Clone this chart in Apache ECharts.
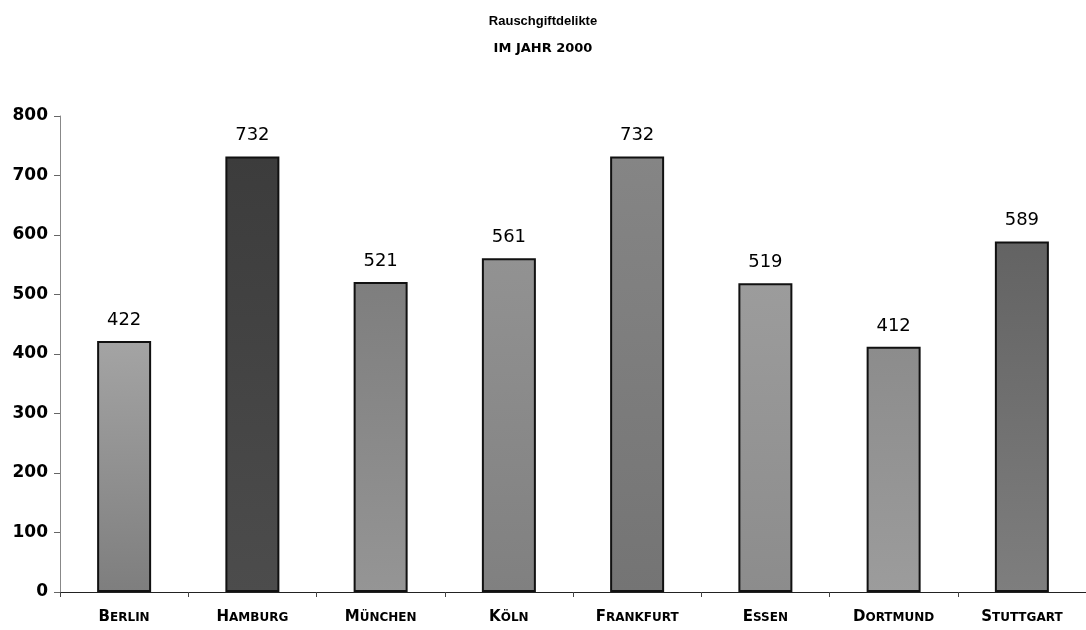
<!DOCTYPE html>
<html>
<head>
<meta charset="utf-8">
<script src="https://cdn.jsdelivr.net/npm/echarts@6/dist/echarts.min.js"></script>
<style>
  html, body { margin: 0; padding: 0; background: #fff; }
  #chart { width: 1086px; height: 630px; }
</style>
</head>
<body>
<div id="chart"></div>
<script>
// Rauschgiftdelikte je Großstadt, Jahr 2000
const cities = ['Berlin', 'Hamburg', 'München', 'Köln', 'Frankfurt', 'Essen', 'Dortmund', 'Stuttgart'];
const cases = [422, 732, 521, 561, 732, 519, 412, 589];
const yTicks = [0, 100, 200, 300, 400, 500, 600, 700, 800];

// grey tones for the bar fills (top, bottom)
const shades = [
  ['#a4a4a4', '#7e7e7e'],
  ['#3c3c3c', '#4c4c4c'],
  ['#7e7e7e', '#959595'],
  ['#929292', '#808080'],
  ['#858585', '#747474'],
  ['#9c9c9c', '#8c8c8c'],
  ['#8c8c8c', '#9c9c9c'],
  ['#636363', '#7e7e7e']
];

function smallCaps(name) {
  const up = name.toUpperCase();
  return '{a|' + up.charAt(0) + '}{b|' + up.slice(1) + '}';
}

const chart = echarts.init(document.getElementById('chart'), null, { renderer: 'canvas' });
chart.setOption({
  animation: false,
  backgroundColor: '#ffffff',
  title: {
    text: 'Rauschgiftdelikte',
    subtext: 'IM JAHR 2000',
    left: 'center',
    top: 10,
    itemGap: 14,
    textStyle: { fontFamily: 'Liberation Sans', fontSize: 13, fontWeight: 'bold', color: '#000' },
    subtextStyle: { fontFamily: 'DejaVu Sans', fontSize: 13, fontWeight: 'bold', color: '#000' }
  },
  grid: { left: 60, top: 116, width: 1036, height: 476, containLabel: false },
  xAxis: {
    type: 'category',
    data: cities,
    boundaryGap: true,
    axisLine: { show: true, lineStyle: { color: '#222', width: 1 } },
    axisTick: { show: true, length: 5, lineStyle: { color: '#444' } },
    axisLabel: {
      interval: 0,
      margin: 18,
      formatter: smallCaps,
      rich: {
        a: { fontFamily: 'DejaVu Sans', fontSize: 15, color: '#000', fontWeight: 'bold' },
        b: { fontFamily: 'DejaVu Sans', fontSize: 12, color: '#000', fontWeight: 'bold' }
      }
    }
  },
  yAxis: {
    type: 'value',
    min: yTicks[0],
    max: yTicks[yTicks.length - 1],
    interval: yTicks[1] - yTicks[0],
    axisLine: { show: true, lineStyle: { color: '#888', width: 1 } },
    axisTick: { show: true, length: 6, lineStyle: { color: '#666' } },
    splitLine: { show: false },
    axisLabel: {
      margin: 12,
      fontFamily: 'DejaVu Sans',
      fontSize: 17,
      fontWeight: 'bold',
      color: '#000'
    }
  },
  series: [{
    type: 'bar',
    barWidth: 54,
    data: cases.map((v, i) => ({
      value: v,
      itemStyle: {
        color: new echarts.graphic.LinearGradient(0, 0, 0, 1, [
          { offset: 0, color: shades[i][0] },
          { offset: 1, color: shades[i][1] }
        ])
      }
    })),
    itemStyle: { borderColor: '#111', borderWidth: 2 },
    label: {
      show: true,
      position: 'top',
      distance: 12,
      fontFamily: 'DejaVu Sans',
      fontSize: 18,
      color: '#000'
    }
  }]
});
</script>
</body>
</html>
